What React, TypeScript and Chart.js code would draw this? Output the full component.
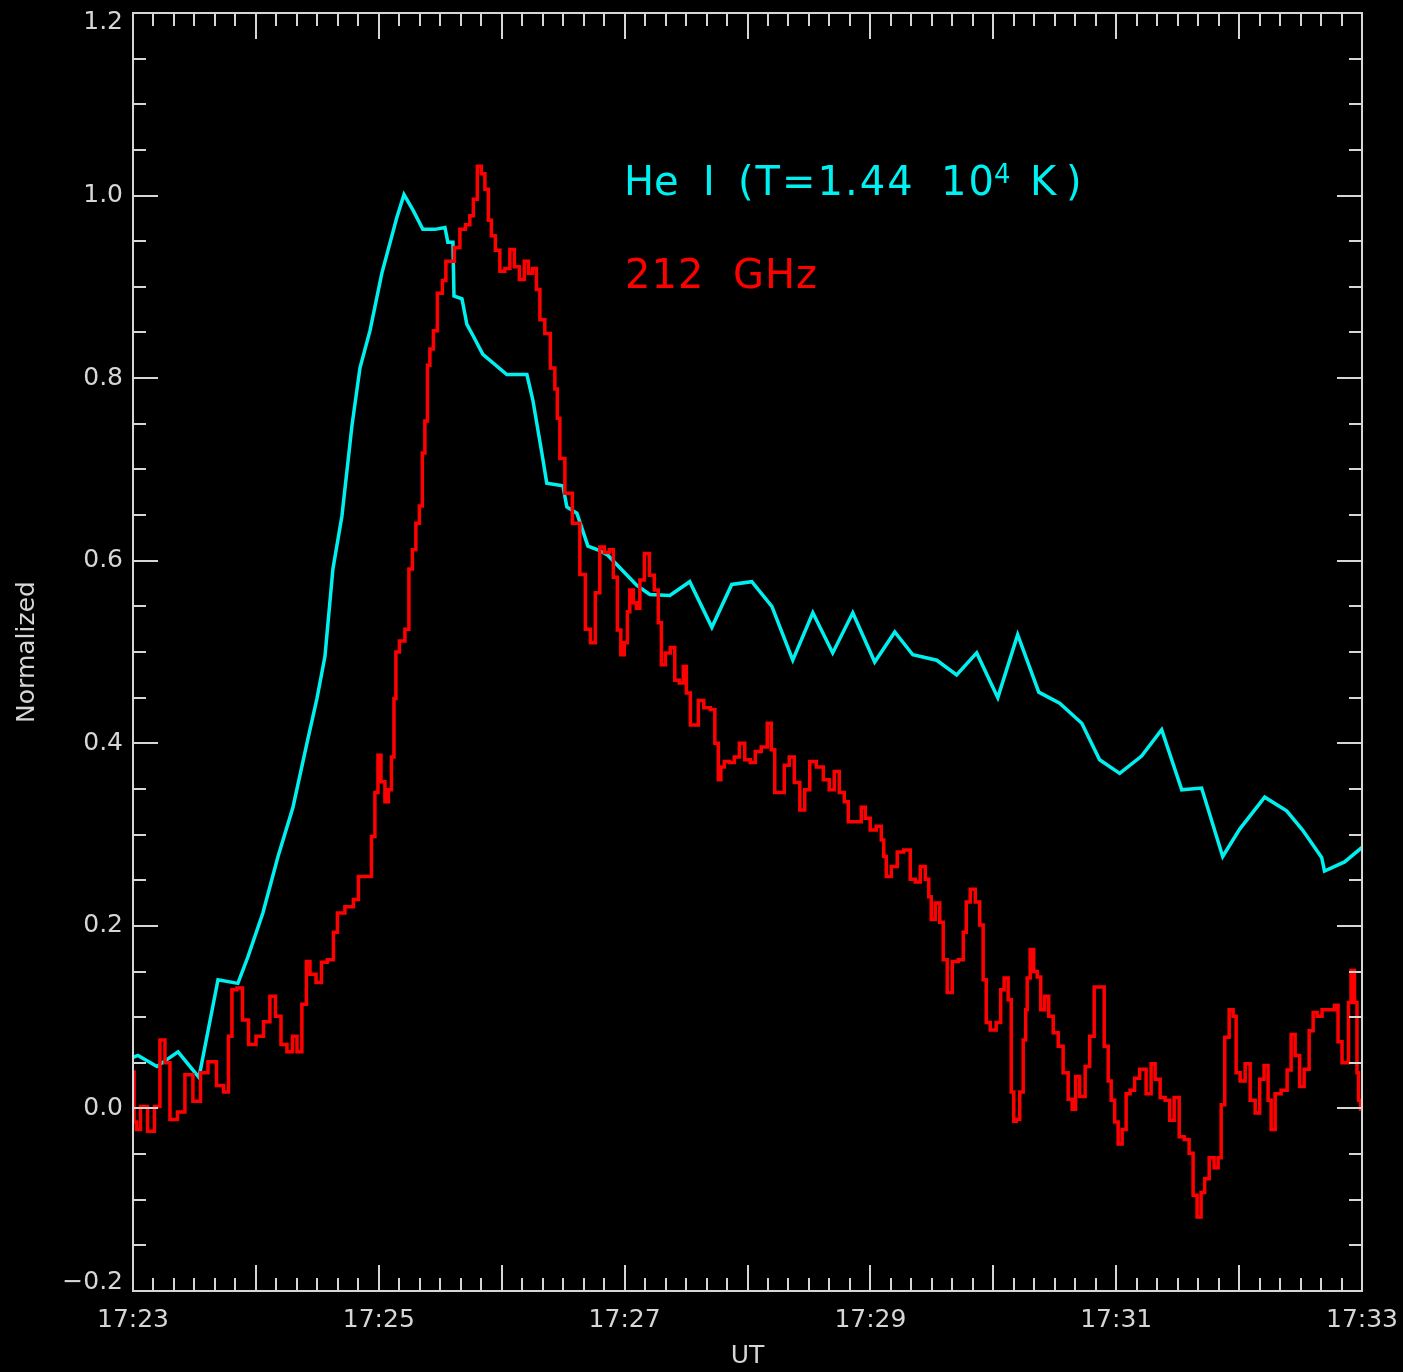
import { useEffect, useRef } from "react";
import { Chart, registerables } from "chart.js";

Chart.register(...registerables);

// Time axis: seconds after 17:23:00 UT
const T_START = 0;
const T_END = 600;
const LABEL_STEP = 120; // labelled ticks every 2 min
const MAJOR_STEP = 60; // major ticks every minute
const MINOR_STEP = 10; // minor ticks every 10 s

const Y_MIN = -0.2;
const Y_MAX = 1.2;
const Y_LABEL_STEP = 0.2;
const Y_MINOR_STEP = 0.05;

// He I line-centre intensity, normalized  [t (s), value]
const heI: [number, number][] = [
  [0, 0.056], [2.4, 0.058], [11.7, 0.046], [22.0, 0.062], [32.2, 0.034],
  [41.5, 0.141], [51.2, 0.137], [56.1, 0.166], [63.4, 0.214], [70.8, 0.276],
  [78.1, 0.330], [84.9, 0.400], [89.8, 0.449], [93.7, 0.495], [97.6, 0.591],
  [102.0, 0.649], [106.9, 0.748], [110.8, 0.811], [115.7, 0.852], [121.5, 0.915],
  [128.8, 0.976], [132.3, 1.001], [136.7, 0.984], [141.5, 0.963], [147.4, 0.963],
  [152.3, 0.965], [153.7, 0.949], [156.2, 0.949], [156.7, 0.890], [160.6, 0.887],
  [163.0, 0.859], [165.9, 0.847], [170.8, 0.826], [182.5, 0.804], [192.3, 0.804],
  [195.2, 0.776], [199.6, 0.718], [202.0, 0.685], [209.9, 0.682], [211.8, 0.659],
  [216.7, 0.652], [222.1, 0.616], [227.9, 0.611], [231.8, 0.606], [246.0, 0.573],
  [252.3, 0.563], [262.1, 0.562], [271.8, 0.577], [282.6, 0.527], [292.3, 0.574],
  [302.1, 0.577], [311.9, 0.550], [322.1, 0.491], [331.9, 0.543], [341.6, 0.499],
  [351.4, 0.543], [362.1, 0.489], [371.9, 0.522], [380.7, 0.497], [392.4, 0.491],
  [402.1, 0.475], [411.9, 0.499], [422.2, 0.450], [431.9, 0.519], [442.2, 0.456],
  [452.4, 0.444], [463.2, 0.422], [471.9, 0.382], [481.7, 0.367], [492.4, 0.386],
  [502.2, 0.415], [512.0, 0.349], [521.7, 0.351], [532.0, 0.276], [540.3, 0.306],
  [552.5, 0.341], [563.2, 0.326], [571.0, 0.305], [580.3, 0.275], [581.7, 0.260],
  [591.5, 0.270], [600.0, 0.286],
];

// 212 GHz flux, normalized  [t (s), value]
const ghz212: [number, number][] = [
  [0, 0.040], [1.0, -0.015], [2.4, -0.023], [4.9, 0.002], [9.3, -0.025],
  [11.7, 0.002], [14.6, 0.075], [16.6, 0.050], [19.5, -0.012], [23.9, -0.004],
  [26.8, 0.037], [31.7, 0.008], [34.2, 0.039], [39.0, 0.051], [42.5, 0.025],
  [45.9, 0.018], [47.3, 0.079], [49.3, 0.130], [52.2, 0.132], [54.7, 0.097],
  [58.1, 0.070], [62.0, 0.079], [65.4, 0.095], [68.3, 0.123], [70.8, 0.101],
  [73.7, 0.070], [76.6, 0.062], [79.1, 0.079], [81.0, 0.062], [83.9, 0.114],
  [85.4, 0.161], [87.4, 0.147], [91.3, 0.138], [92.7, 0.160], [97.1, 0.163],
  [98.6, 0.193], [101.0, 0.214], [105.9, 0.221], [109.3, 0.229], [110.8, 0.254],
  [115.7, 0.254], [117.1, 0.298], [119.1, 0.346], [120.1, 0.387], [122.0, 0.358],
  [124.0, 0.336], [125.4, 0.349], [126.9, 0.385], [127.9, 0.449], [128.8, 0.500],
  [131.3, 0.512], [134.2, 0.525], [135.2, 0.591], [137.6, 0.612], [138.6, 0.641],
  [141.0, 0.660], [141.5, 0.718], [143.5, 0.753], [144.0, 0.814], [145.9, 0.832],
  [147.4, 0.852], [149.8, 0.893], [152.3, 0.907], [153.2, 0.928], [155.7, 0.928],
  [158.1, 0.943], [161.1, 0.963], [163.5, 0.968], [165.4, 0.978], [166.9, 0.996],
  [169.3, 1.032], [170.8, 1.024], [172.8, 1.007], [174.2, 0.973], [175.7, 0.956],
  [178.1, 0.940], [180.1, 0.917], [183.0, 0.920], [185.0, 0.941], [187.4, 0.922],
  [189.8, 0.908], [192.3, 0.928], [193.8, 0.915], [196.2, 0.920], [197.7, 0.897],
  [199.6, 0.864], [202.5, 0.849], [205.0, 0.811], [206.9, 0.788], [207.4, 0.756],
  [209.4, 0.712], [212.3, 0.674], [216.7, 0.641], [219.6, 0.585], [222.1, 0.525],
  [224.5, 0.510], [226.9, 0.565], [228.9, 0.615], [231.3, 0.609], [233.8, 0.612],
  [235.2, 0.582], [237.7, 0.524], [238.6, 0.497], [241.1, 0.510], [241.6, 0.544],
  [243.5, 0.568], [245.0, 0.554], [246.5, 0.548], [248.4, 0.579], [250.9, 0.608],
  [253.3, 0.584], [255.7, 0.568], [257.2, 0.532], [258.7, 0.486], [261.1, 0.499],
  [263.5, 0.505], [265.5, 0.469], [267.9, 0.466], [269.4, 0.484], [270.9, 0.455],
  [273.3, 0.420], [275.3, 0.420], [276.7, 0.447], [280.6, 0.439], [283.1, 0.437],
  [285.0, 0.400], [286.5, 0.360], [287.5, 0.374], [289.9, 0.380], [292.3, 0.379],
  [294.8, 0.385], [297.2, 0.400], [300.1, 0.382], [302.6, 0.379], [305.0, 0.391],
  [308.4, 0.396], [310.9, 0.422], [312.3, 0.393], [314.3, 0.346], [316.7, 0.346],
  [319.2, 0.376], [321.6, 0.385], [324.1, 0.357], [327.0, 0.327], [328.9, 0.349],
  [331.9, 0.380], [335.3, 0.374], [338.7, 0.360], [341.1, 0.349], [343.6, 0.369],
  [346.0, 0.346], [348.5, 0.336], [349.9, 0.314], [354.8, 0.314], [356.3, 0.330],
  [358.7, 0.318], [361.1, 0.305], [364.6, 0.309], [366.0, 0.294], [367.0, 0.276],
  [368.5, 0.254], [371.9, 0.265], [374.3, 0.281], [378.2, 0.283], [380.7, 0.251],
  [383.1, 0.248], [385.6, 0.265], [388.0, 0.251], [389.0, 0.232], [390.4, 0.207],
  [392.9, 0.225], [394.8, 0.204], [396.3, 0.163], [398.7, 0.127], [401.2, 0.161],
  [404.6, 0.163], [406.1, 0.193], [407.5, 0.226], [410.0, 0.240], [412.4, 0.226],
  [414.3, 0.201], [415.8, 0.141], [417.3, 0.094], [419.7, 0.086], [423.1, 0.094],
  [424.1, 0.130], [426.5, 0.143], [428.0, 0.119], [429.5, 0.018], [430.5, -0.014],
  [431.9, -0.012], [433.9, 0.018], [435.3, 0.075], [436.3, 0.108], [436.8, 0.143],
  [439.2, 0.174], [440.2, 0.150], [442.7, 0.144], [443.6, 0.108], [446.6, 0.123],
  [447.5, 0.101], [451.0, 0.083], [452.4, 0.068], [455.8, 0.039], [457.3, 0.010],
  [459.7, -0.001], [460.7, 0.035], [463.6, 0.013], [466.1, 0.046], [468.0, 0.079],
  [470.5, 0.133], [472.9, 0.133], [475.4, 0.068], [476.8, 0.030], [478.3, 0.009],
  [480.2, -0.015], [481.7, -0.039], [484.1, -0.023], [485.6, 0.016], [488.0, 0.020],
  [490.0, 0.033], [492.9, 0.043], [496.3, 0.016], [497.8, 0.049], [500.2, 0.032],
  [502.7, 0.012], [505.1, 0.009], [507.1, -0.013], [509.5, 0.012], [512.0, -0.031],
  [514.4, -0.034], [516.8, -0.049], [518.3, -0.095], [520.7, -0.119], [522.2, -0.092],
  [524.2, -0.077], [526.6, -0.054], [529.0, -0.065], [530.5, -0.054], [532.0, 0.004],
  [534.0, 0.078], [536.3, 0.108], [537.8, 0.101], [539.3, 0.039], [541.7, 0.030],
  [544.2, 0.049], [546.6, 0.009], [549.1, -0.005], [551.0, 0.032], [553.4, 0.047],
  [554.9, 0.009], [556.4, -0.023], [558.8, 0.016], [562.2, 0.020], [564.7, 0.042],
  [566.1, 0.081], [568.6, 0.058], [570.5, 0.024], [573.0, 0.043], [575.4, 0.085],
  [576.9, 0.105], [579.3, 0.101], [581.7, 0.108], [585.6, 0.108], [587.6, 0.113],
  [589.0, 0.073], [591.5, 0.050], [592.9, 0.050], [593.9, 0.116], [595.4, 0.151],
  [597.3, 0.116], [597.8, 0.039], [598.8, 0.009], [599.8, -0.001],
];

const CYAN = "#00f0f0";
const RED = "#ff0000";
const AXIS = "#d6d6d6";
const FONT = '"DejaVu Sans", sans-serif';

const timeLabel = (s: number) => `17:${23 + Math.round(s / 60)}`;

// The end labels of the value axis sit just inside the box, so they are
// padded with an empty line that pushes them towards the plot.
const valueLabel = (v: number): string | string[] => {
  const text =
    Math.abs(v) < 1e-9 ? "0.0" : (v < 0 ? "\u2212" : "") + Math.abs(v).toFixed(1);
  if (Math.abs(v - Y_MAX) < 1e-9) return ["", text];
  if (Math.abs(v - Y_MIN) < 1e-9) return [text, ""];
  return text;
};

// Keep the plot box fixed by the layout padding alone: drop the extra
// room Chart.js reserves for labels overhanging the ends of an axis.
const noOverhang = (s: any) => {
  s.paddingLeft = 0;
  s.paddingRight = 0;
  s.paddingTop = 0;
  s.paddingBottom = 0;
};

// IDL-style frame: box with inward major/minor ticks on all four sides,
// plus the two coloured annotation lines.
const framePlugin = {
  id: "idlFrame",
  beforeDraw(chart: any) {
    const { ctx, width, height } = chart;
    ctx.save();
    ctx.fillStyle = "#000";
    ctx.fillRect(0, 0, width, height);
    ctx.restore();
  },
  afterDraw(chart: any) {
    const { ctx, chartArea: a, scales } = chart;
    const xs = scales.x;
    const ys = scales.y;
    ctx.save();
    ctx.strokeStyle = AXIS;
    ctx.lineWidth = 2;
    ctx.strokeRect(a.left, a.top, a.right - a.left, a.bottom - a.top);

    ctx.beginPath();
    for (let s = T_START; s <= T_END + 1e-6; s += MINOR_STEP) {
      const px = Math.round(xs.getPixelForValue(s));
      const len = Math.abs(s % MAJOR_STEP) < 1e-6 ? 26 : 13;
      ctx.moveTo(px, a.bottom);
      ctx.lineTo(px, a.bottom - len);
      ctx.moveTo(px, a.top);
      ctx.lineTo(px, a.top + len);
    }
    const nY = Math.round((Y_MAX - Y_MIN) / Y_MINOR_STEP);
    const perLabel = Math.round(Y_LABEL_STEP / Y_MINOR_STEP);
    for (let k = 0; k <= nY; k++) {
      const v = Y_MIN + k * Y_MINOR_STEP;
      const py = Math.round(ys.getPixelForValue(v));
      const len = k % perLabel === 0 ? 25 : 13;
      ctx.moveTo(a.left, py);
      ctx.lineTo(a.left + len, py);
      ctx.moveTo(a.right, py);
      ctx.lineTo(a.right - len, py);
    }
    ctx.stroke();

    // annotations
    ctx.textBaseline = "alphabetic";
    ctx.textAlign = "left";
    ctx.font = `40px ${FONT}`;
    ctx.fillStyle = CYAN;
    const row1 = 195;
    ctx.fillText("He", 624, row1);
    ctx.fillText("I", 703, row1);
    (ctx as any).letterSpacing = "2px";
    ctx.fillText("(T=1.44", 738, row1);
    ctx.fillText("10", 941, row1);
    (ctx as any).letterSpacing = "0px";
    ctx.fillText("K", 1030, row1);
    ctx.fillText(")", 1066, row1);
    ctx.font = `26px ${FONT}`;
    ctx.fillText("4", 994, row1 - 12);

    ctx.font = `40px ${FONT}`;
    ctx.fillStyle = RED;
    const row2 = 288;
    (ctx as any).letterSpacing = "1px";
    ctx.fillText("212", 625, row2);
    ctx.fillText("GHz", 733, row2);
    ctx.restore();
  },
};

export default function App() {
  const ref = useRef<HTMLCanvasElement>(null);

  useEffect(() => {
    const canvas = ref.current;
    if (!canvas) return;
    const tickFont = { family: FONT, size: 25, lineHeight: 1 };
    const chart = new Chart(canvas, {
      type: "line",
      data: {
        datasets: [
          {
            label: "212 GHz",
            data: ghz212.map(([x, y]) => ({ x, y })),
            borderColor: RED,
            borderWidth: 3.5,
            pointRadius: 0,
            stepped: "middle",
            fill: false,
          },
          {
            label: "He I",
            data: heI.map(([x, y]) => ({ x, y })),
            borderColor: CYAN,
            borderWidth: 3.5,
            pointRadius: 0,
            tension: 0,
            fill: false,
          },
        ],
      },
      options: {
        animation: false,
        responsive: false,
        maintainAspectRatio: false,
        devicePixelRatio: 1,
        layout: { padding: { top: 13, right: 41, left: 0, bottom: 0 } },
        plugins: {
          legend: { display: false },
          tooltip: { enabled: false },
        },
        scales: {
          x: {
            type: "linear",
            min: T_START,
            max: T_END,
            afterFit: (s: any) => {
              s.height = 81;
              noOverhang(s);
            },
            grid: { display: false, drawTicks: false },
            border: { display: false },
            ticks: {
              stepSize: LABEL_STEP,
              autoSkip: false,
              maxRotation: 0,
              padding: 17,
              color: AXIS,
              font: tickFont,
              callback: (v: any) => timeLabel(Number(v)),
            },
            title: {
              display: true,
              text: "UT",
              color: AXIS,
              font: tickFont,
              padding: { top: 0, bottom: 3 },
            },
          },
          y: {
            type: "linear",
            min: Y_MIN,
            max: Y_MAX,
            afterFit: (s: any) => {
              s.width = 133;
              noOverhang(s);
            },
            grid: { display: false, drawTicks: false },
            border: { display: false },
            ticks: {
              stepSize: Y_LABEL_STEP,
              autoSkip: false,
              padding: 10,
              color: AXIS,
              font: { family: FONT, size: 25, lineHeight: 0.72 },
              callback: (v: any) => valueLabel(Number(v)),
            },
            title: {
              display: true,
              text: "Normalized",
              color: AXIS,
              font: tickFont,
              padding: { top: 15, bottom: 0 },
            },
          },
        },
      },
      plugins: [framePlugin],
    } as any);
    return () => chart.destroy();
  }, []);

  return (
    <div
      style={{
        position: "absolute",
        left: 0,
        top: 0,
        width: 1403,
        height: 1372,
        background: "#000",
      }}
    >
      <canvas ref={ref} width={1403} height={1372} style={{ display: "block" }} />
    </div>
  );
}
